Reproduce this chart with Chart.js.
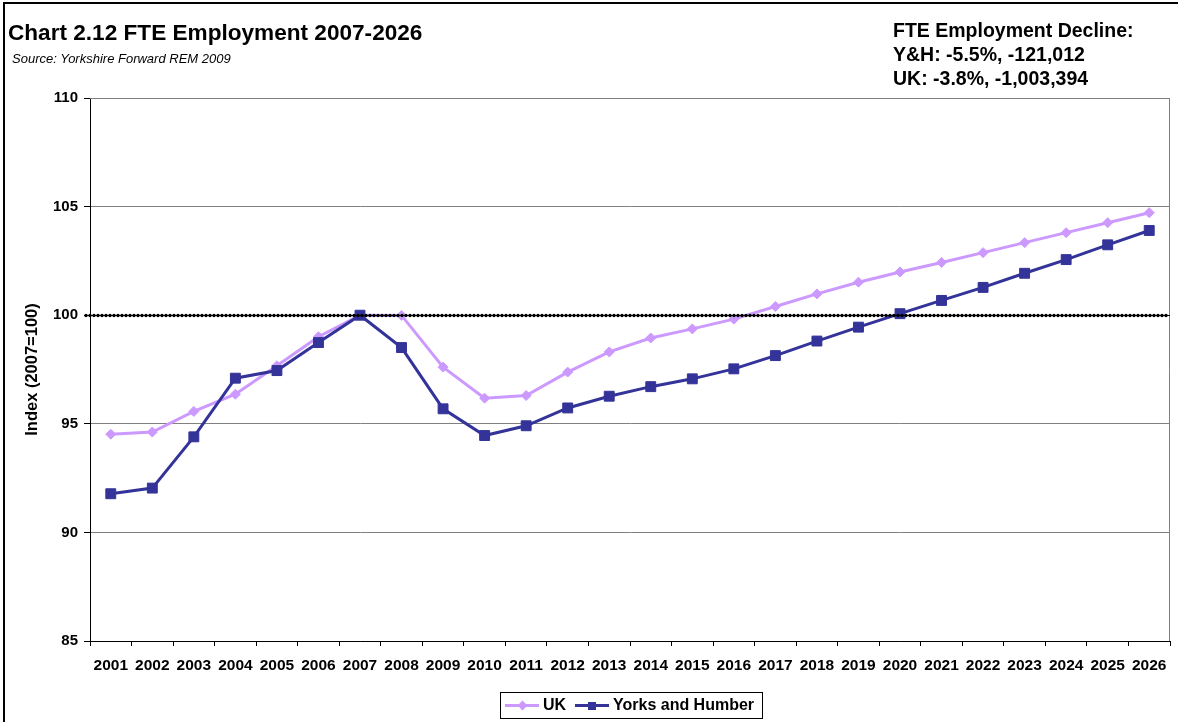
<!DOCTYPE html>
<html>
<head>
<meta charset="utf-8">
<script src="https://cdn.jsdelivr.net/npm/chart.js@4.4.1/dist/chart.umd.min.js"></script>
<style>
  html, body { margin: 0; padding: 0; background: #fff; }
  #wrap { position: relative; width: 1178px; height: 722px; overflow: hidden; font-family: "Liberation Sans", Arial, sans-serif; }
  #c { position: absolute; left: 0; top: 0; }
  #frame { position: absolute; left: 3px; top: 2px; width: 1200px; height: 800px; border-left: 2px solid #000; border-top: 2px solid #000; }
  #title { position: absolute; left: 8px; top: 21px; font-size: 22.6px; line-height: 23px; font-weight: bold; color: #000; white-space: nowrap; }
  #subtitle { position: absolute; left: 12px; top: 52px; font-size: 13px; line-height: 14px; font-style: italic; color: #000; white-space: nowrap; }
  #note { position: absolute; left: 893px; top: 18px; font-size: 19.5px; line-height: 24px; font-weight: bold; color: #000; white-space: nowrap; }
  #legend { position: absolute; left: 500px; top: 692px; width: 263px; height: 27px; box-sizing: border-box; border: 1px solid #000; background: #fff; font-size: 16px; font-weight: bold; }
  .lline { position: absolute; top: 11px; width: 34px; height: 3px; }
  .lmark { position: absolute; }
  .ltext { position: absolute; top: 3px; line-height: 18px; white-space: nowrap; }
</style>
</head>
<body>
<div id="wrap">
  <canvas id="c" width="1178" height="722"></canvas>
  <div id="frame"></div>
  <div id="title">Chart 2.12 FTE Employment 2007-2026</div>
  <div id="subtitle">Source: Yorkshire Forward REM 2009</div>
  <div id="note">FTE Employment Decline:<br>Y&amp;H: -5.5%, -121,012<br>UK: -3.8%, -1,003,394</div>
  <div id="legend"></div>
</div>
<script>
const years = ["2001","2002","2003","2004","2005","2006","2007","2008","2009","2010","2011","2012","2013","2014","2015","2016","2017","2018","2019","2020","2021","2022","2023","2024","2025","2026"];
const ukValues = [94.52, 94.62, 95.57, 96.36, 97.67, 99.01, 100.00, 99.99, 97.61, 96.18, 96.30, 97.38, 98.31, 98.95, 99.37, 99.82, 100.40, 100.98, 101.52, 101.99, 102.43, 102.88, 103.34, 103.80, 104.26, 104.72];
const yhValues = [91.78, 92.04, 94.40, 97.10, 97.45, 98.74, 100.00, 98.51, 95.69, 94.46, 94.91, 95.73, 96.27, 96.71, 97.07, 97.53, 98.14, 98.81, 99.45, 100.07, 100.68, 101.28, 101.93, 102.56, 103.24, 103.90];
const seriesNames = ["UK", "Yorks and Humber"];
const yTicks = [85, 90, 95, 100, 105, 110];
const baseline = 100;

const UK_COLOR = "#CC99FF";
const YH_COLOR = "#333399";
const FONT = "'Liberation Sans', Arial, sans-serif";

const plotFrame = {
  id: "plotFrame",
  beforeDatasetsDraw(chart) {
    const { ctx, chartArea: a } = chart;
    ctx.save();
    ctx.strokeStyle = "#808080";
    ctx.lineWidth = 1;
    ctx.beginPath();
    ctx.moveTo(a.left, a.top + 0.5);
    ctx.lineTo(a.right - 0.5, a.top + 0.5);
    ctx.lineTo(a.right - 0.5, a.bottom);
    ctx.stroke();
    ctx.restore();
  },
  afterDatasetsDraw(chart) {
    const { ctx, chartArea: a, scales } = chart;
    const y = Math.round(scales.y.getPixelForValue(baseline)) + 0.5;
    ctx.save();
    ctx.strokeStyle = "#000";
    ctx.lineWidth = 1.2;
    ctx.beginPath();
    ctx.moveTo(a.left - 5, y);
    ctx.lineTo(a.right, y);
    ctx.stroke();
    ctx.lineWidth = 3.4;
    ctx.lineCap = "round";
    ctx.setLineDash([0, 4]);
    ctx.beginPath();
    ctx.moveTo(a.left - 4, y);
    ctx.lineTo(a.right, y);
    ctx.stroke();
    ctx.restore();
  }
};

new Chart(document.getElementById("c"), {
  type: "line",
  data: {
    labels: years,
    datasets: [
      {
        label: seriesNames[0],
        data: ukValues,
        borderColor: UK_COLOR,
        backgroundColor: UK_COLOR,
        borderWidth: 3,
        pointStyle: "rectRot",
        pointRadius: 5,
        pointBorderWidth: 1,
        pointBorderColor: UK_COLOR,
        pointBackgroundColor: UK_COLOR,
        tension: 0,
        order: 2
      },
      {
        label: seriesNames[1],
        data: yhValues,
        borderColor: YH_COLOR,
        backgroundColor: YH_COLOR,
        borderWidth: 3,
        pointStyle: "rect",
        pointRadius: 7,
        pointBorderWidth: 1,
        pointBorderColor: YH_COLOR,
        pointBackgroundColor: YH_COLOR,
        tension: 0,
        order: 1
      }
    ]
  },
  options: {
    responsive: false,
    animation: false,
    devicePixelRatio: 1,
    layout: { padding: { top: 98, right: 8, bottom: 41, left: 0 } },
    plugins: {
      legend: { display: false },
      title: { display: false },
      tooltip: { enabled: false }
    },
    scales: {
      x: {
        type: "category",
        offset: true,
        afterFit(s) { s.height = 40; },
        grid: { display: true, drawOnChartArea: false, drawTicks: true, tickLength: 5, offset: true, color: "#000", tickColor: "#000" },
        border: { display: true, color: "#000", width: 1 },
        ticks: { color: "#000", font: { family: FONT, size: 15.5, weight: "bold" }, padding: 10, maxRotation: 0, autoSkip: false }
      },
      y: {
        min: yTicks[0],
        max: yTicks[yTicks.length - 1],
        afterFit(s) { s.width = 90; },
        afterBuildTicks(s) { s.ticks = yTicks.map(v => ({ value: v })); },
        grid: { color: "#808080", lineWidth: 1, tickColor: "#000", tickLength: 6, drawTicks: true },
        border: { display: true, color: "#000", width: 1 },
        ticks: { color: "#000", font: { family: FONT, size: 15, weight: "bold" }, padding: 6 },
        title: { display: true, text: "Index (2007=100)", color: "#000", font: { family: FONT, size: 16.5, weight: "bold" }, padding: { top: 23, bottom: 0 } }
      }
    }
  },
  plugins: [plotFrame]
});

// HTML legend (line + marker symbols, like the reference)
(function () {
  const lg = document.getElementById("legend");
  const items = [
    { name: seriesNames[0], color: UK_COLOR, shape: "diamond", lineLeft: 4, textLeft: 42 },
    { name: seriesNames[1], color: YH_COLOR, shape: "square", lineLeft: 74, textLeft: 112 }
  ];
  items.forEach(it => {
    const ln = document.createElement("div");
    ln.className = "lline";
    ln.style.left = it.lineLeft + "px";
    ln.style.background = it.color;
    lg.appendChild(ln);
    const mk = document.createElement("div");
    mk.className = "lmark";
    mk.style.background = it.color;
    if (it.shape === "diamond") {
      mk.style.width = "7px"; mk.style.height = "7px";
      mk.style.left = (it.lineLeft + 17 - 3.5) + "px";
      mk.style.top = (12.5 - 3.5) + "px";
      mk.style.transform = "rotate(45deg)";
    } else {
      mk.style.width = "8px"; mk.style.height = "8px";
      mk.style.left = (it.lineLeft + 17 - 4) + "px";
      mk.style.top = (12.5 - 4) + "px";
    }
    lg.appendChild(mk);
    const tx = document.createElement("span");
    tx.className = "ltext";
    tx.style.left = it.textLeft + "px";
    tx.textContent = it.name;
    lg.appendChild(tx);
  });
})();
</script>
</body>
</html>
